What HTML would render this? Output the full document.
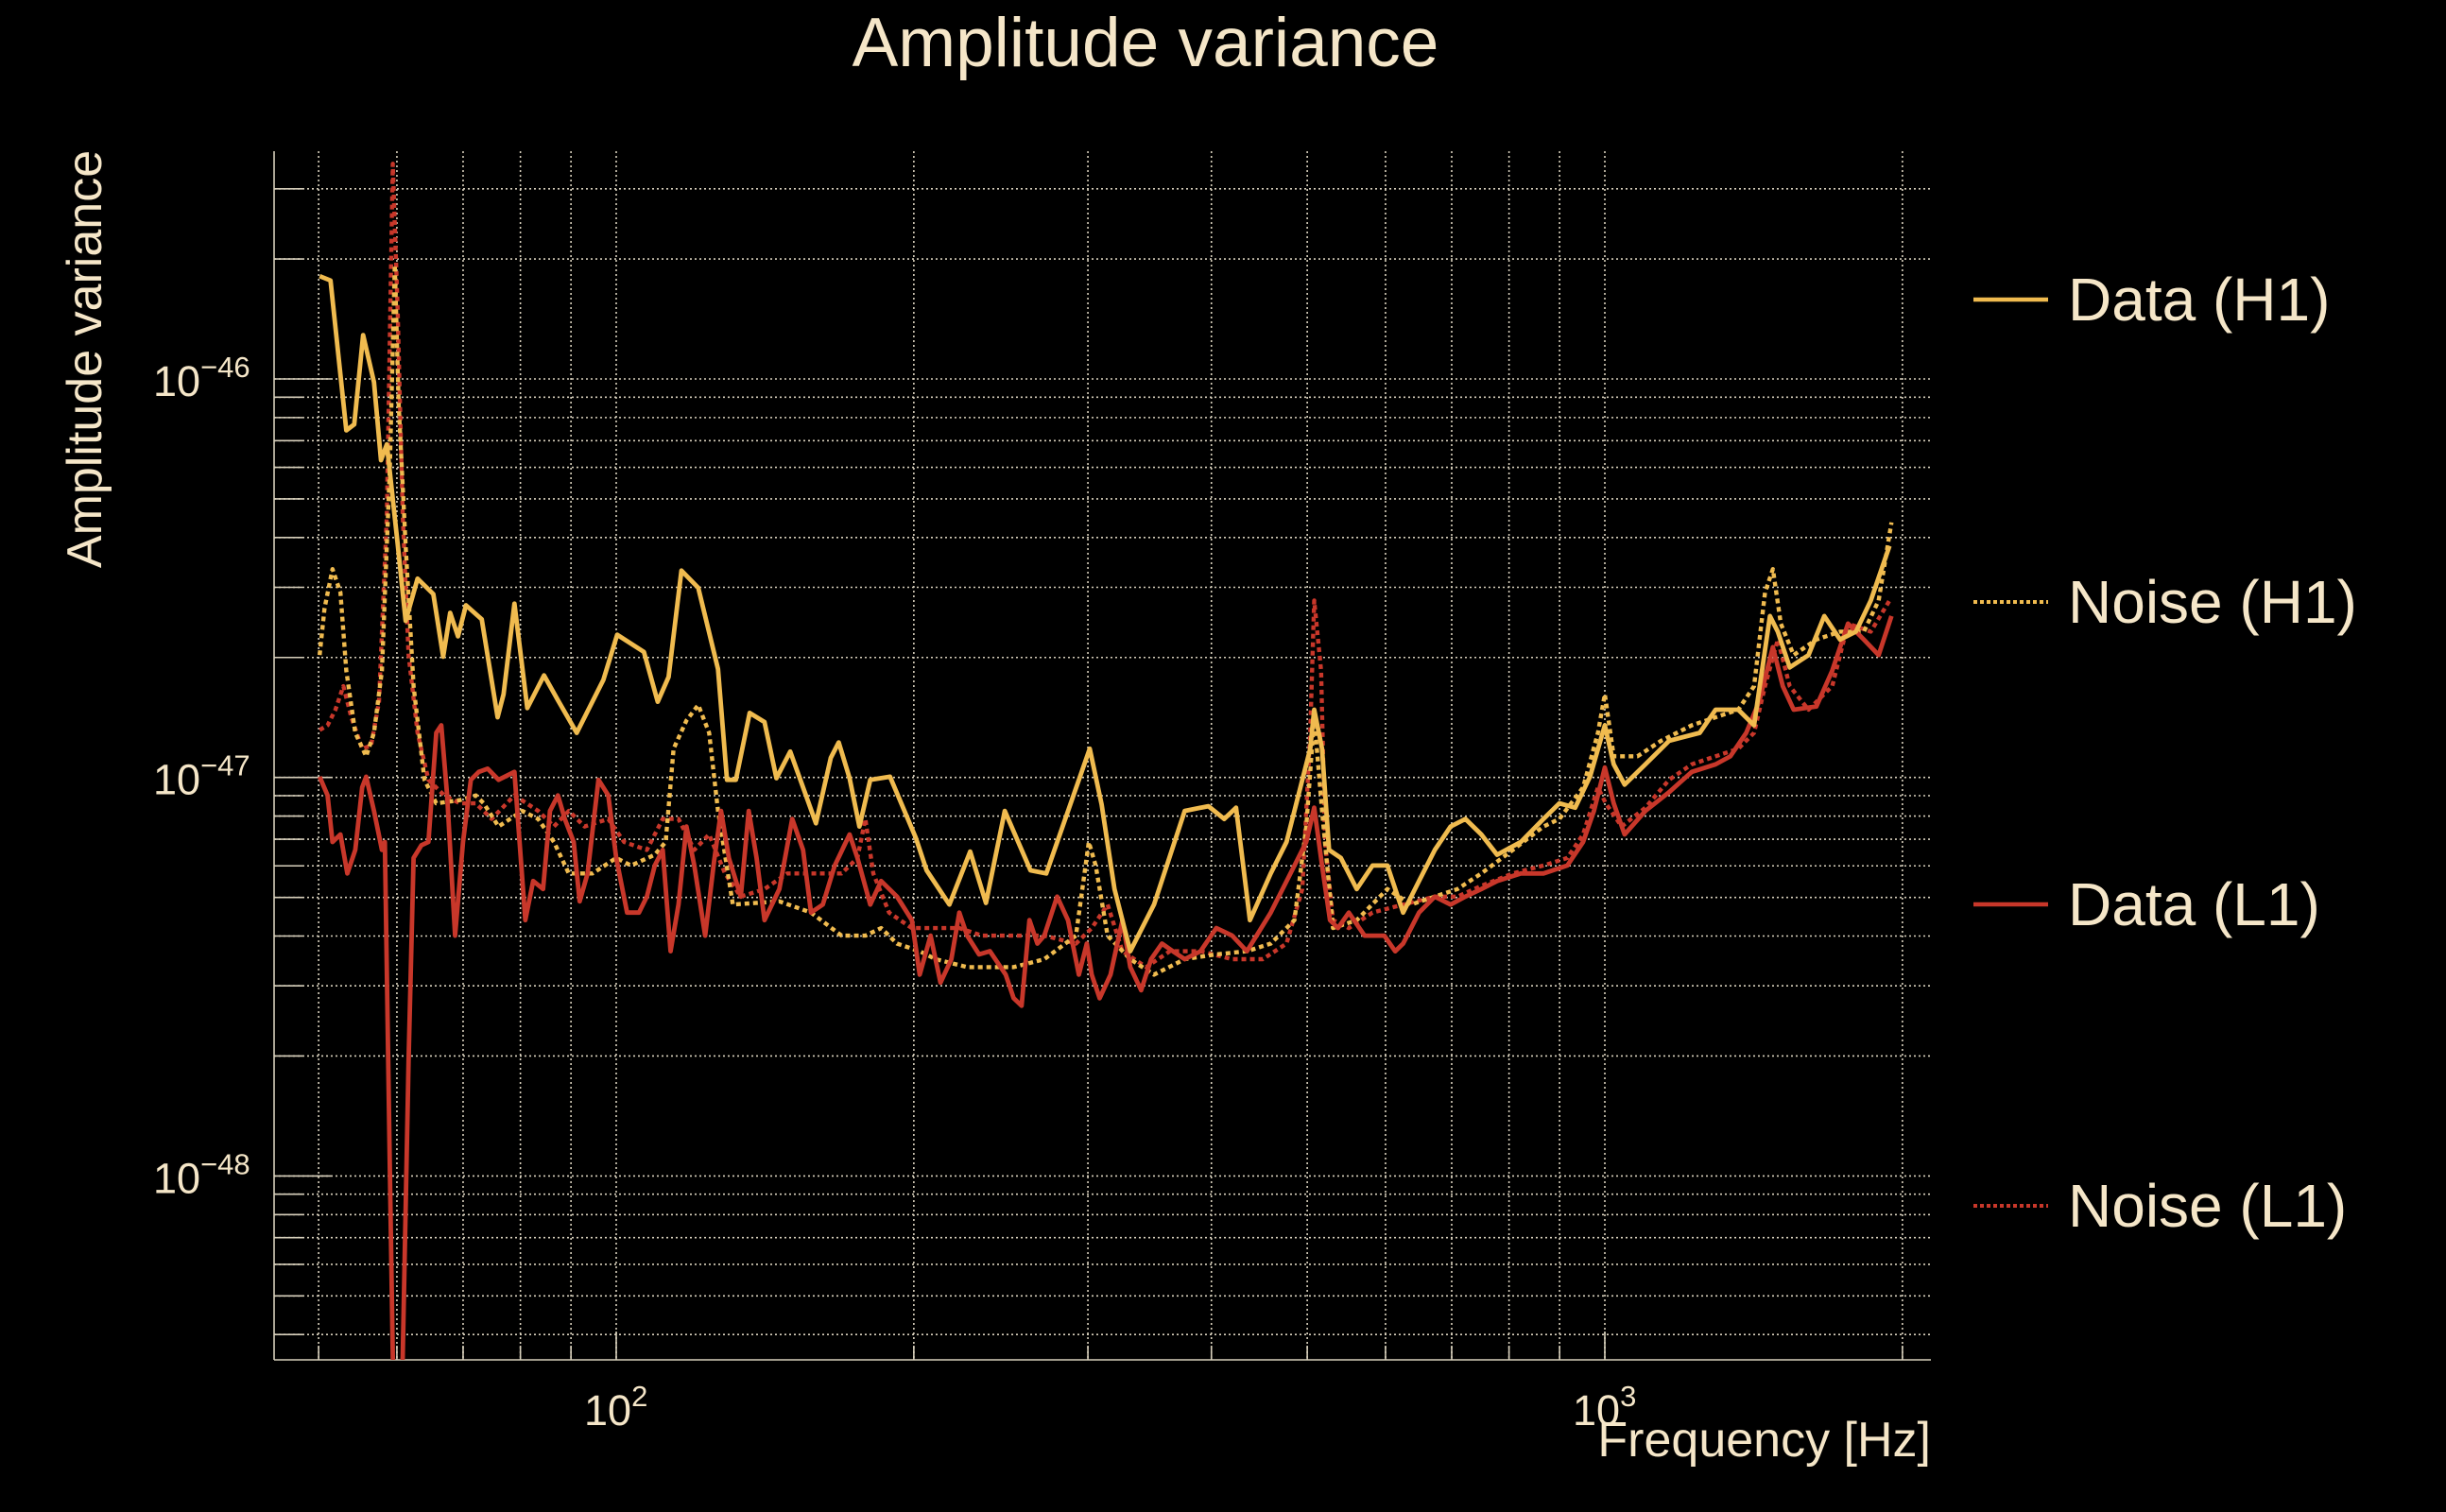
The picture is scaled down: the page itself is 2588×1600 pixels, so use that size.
<!DOCTYPE html>
<html><head><meta charset="utf-8"><style>
html,body{margin:0;padding:0;background:#000;}
svg{display:block;font-family:"Liberation Sans",sans-serif;}
</style></head><body>
<svg id="chart" width="2588" height="1600" viewBox="0 0 2588 1600">
<rect width="2588" height="1600" fill="#000"/>
<defs><clipPath id="plotclip"><rect x="290" y="160" width="1753" height="1279"/></clipPath></defs>
<g id="grid"></g>
<g id="axes"></g>
<g id="series" clip-path="url(#plotclip)"></g>
<text x="1212" y="70" text-anchor="middle" font-size="73" fill="#f5e6c8">Amplitude variance</text>
<text transform="translate(107,380) rotate(-90)" text-anchor="middle" font-size="52" fill="#f5e6c8">Amplitude variance</text>
<text x="2043" y="1541" text-anchor="end" font-size="52" fill="#f5e6c8">Frequency [Hz]</text>
<g id="legend"></g>
</svg>
<script>
const NS="http://www.w3.org/2000/svg";
// x: log10(frequency Hz), y: log10(amplitude variance)
const dataH1LogF=[1.700,1.711,1.727,1.735,1.744,1.755,1.762,1.768,1.779,1.787,1.799,1.815,1.825,1.832,1.840,1.848,1.864,1.880,1.886,1.897,1.910,1.927,1.941,1.960,1.987,2.001,2.028,2.042,2.053,2.066,2.083,2.103,2.112,2.121,2.135,2.150,2.162,2.176,2.202,2.217,2.225,2.236,2.246,2.257,2.277,2.303,2.314,2.337,2.358,2.374,2.393,2.419,2.435,2.479,2.491,2.504,2.520,2.544,2.575,2.599,2.615,2.627,2.641,2.662,2.678,2.702,2.706,2.714,2.721,2.733,2.749,2.765,2.780,2.796,2.812,2.828,2.844,2.859,2.875,2.891,2.915,2.938,2.954,2.970,2.985,3.000,3.009,3.020,3.041,3.065,3.096,3.112,3.135,3.151,3.167,3.175,3.187,3.206,3.222,3.238,3.254,3.269,3.288];
const dataH1LogV=[-45.742,-45.753,-46.129,-46.114,-45.890,-46.008,-46.204,-46.164,-46.415,-46.607,-46.501,-46.540,-46.697,-46.587,-46.646,-46.568,-46.603,-46.849,-46.791,-46.564,-46.826,-46.744,-46.806,-46.888,-46.755,-46.642,-46.685,-46.810,-46.748,-46.481,-46.524,-46.728,-47.006,-47.006,-46.838,-46.861,-47.002,-46.935,-47.115,-46.951,-46.912,-47.002,-47.123,-47.006,-46.998,-47.151,-47.233,-47.319,-47.186,-47.315,-47.084,-47.233,-47.241,-46.928,-47.068,-47.280,-47.436,-47.319,-47.084,-47.072,-47.104,-47.076,-47.358,-47.241,-47.162,-46.928,-46.830,-46.928,-47.182,-47.202,-47.280,-47.221,-47.221,-47.339,-47.260,-47.182,-47.123,-47.104,-47.143,-47.194,-47.162,-47.104,-47.065,-47.076,-46.998,-46.869,-46.967,-47.018,-46.967,-46.908,-46.888,-46.830,-46.830,-46.869,-46.595,-46.634,-46.724,-46.693,-46.595,-46.654,-46.634,-46.556,-46.419];
const noiseH1LogF=[1.700,1.705,1.713,1.721,1.727,1.736,1.747,1.755,1.763,1.771,1.776,1.780,1.787,1.795,1.806,1.818,1.842,1.858,1.866,1.881,1.905,1.921,1.937,1.952,1.976,2.000,2.015,2.039,2.050,2.058,2.071,2.083,2.094,2.103,2.118,2.165,2.197,2.228,2.252,2.268,2.284,2.307,2.323,2.355,2.402,2.433,2.465,2.478,2.485,2.497,2.520,2.544,2.575,2.607,2.638,2.662,2.686,2.698,2.706,2.714,2.725,2.749,2.780,2.804,2.828,2.851,2.875,2.907,2.938,2.954,2.978,2.993,3.000,3.009,3.033,3.057,3.088,3.112,3.135,3.151,3.162,3.170,3.178,3.191,3.214,3.238,3.262,3.277,3.290];
const noiseH1LogV=[-46.693,-46.575,-46.477,-46.536,-46.732,-46.888,-46.947,-46.888,-46.732,-46.223,-45.714,-46.067,-46.419,-46.771,-47.006,-47.065,-47.057,-47.045,-47.065,-47.123,-47.084,-47.104,-47.162,-47.241,-47.241,-47.202,-47.221,-47.194,-47.162,-46.928,-46.857,-46.818,-46.888,-47.084,-47.319,-47.311,-47.339,-47.397,-47.397,-47.378,-47.417,-47.436,-47.456,-47.476,-47.476,-47.456,-47.397,-47.162,-47.221,-47.397,-47.456,-47.495,-47.456,-47.444,-47.436,-47.417,-47.358,-47.123,-46.849,-47.084,-47.378,-47.358,-47.280,-47.319,-47.299,-47.280,-47.241,-47.182,-47.123,-47.104,-47.025,-46.888,-46.791,-46.947,-46.947,-46.908,-46.869,-46.849,-46.830,-46.771,-46.536,-46.477,-46.614,-46.693,-46.654,-46.634,-46.634,-46.556,-46.360];
const dataL1LogF=[1.700,1.708,1.713,1.721,1.728,1.736,1.743,1.747,1.755,1.763,1.766,1.771,1.774,1.779,1.784,1.790,1.795,1.803,1.810,1.818,1.823,1.829,1.837,1.845,1.853,1.861,1.870,1.881,1.897,1.908,1.916,1.926,1.933,1.941,1.948,1.957,1.963,1.971,1.982,1.992,2.000,2.011,2.023,2.031,2.039,2.047,2.055,2.063,2.071,2.079,2.090,2.099,2.106,2.114,2.126,2.134,2.142,2.150,2.165,2.178,2.189,2.197,2.209,2.221,2.236,2.244,2.257,2.268,2.284,2.299,2.307,2.318,2.328,2.339,2.347,2.355,2.367,2.378,2.394,2.402,2.410,2.418,2.426,2.433,2.446,2.457,2.468,2.476,2.481,2.489,2.500,2.512,2.520,2.531,2.541,2.552,2.563,2.575,2.591,2.607,2.623,2.638,2.662,2.686,2.698,2.706,2.714,2.722,2.730,2.741,2.757,2.777,2.788,2.796,2.812,2.828,2.844,2.859,2.875,2.891,2.915,2.938,2.962,2.978,2.989,3.000,3.009,3.020,3.041,3.065,3.088,3.112,3.127,3.143,3.156,3.170,3.180,3.191,3.214,3.230,3.246,3.262,3.277,3.290];
const dataL1LogV=[-46.998,-47.045,-47.162,-47.143,-47.241,-47.182,-47.025,-46.998,-47.084,-47.182,-47.162,-47.984,-48.454,-48.700,-48.454,-47.710,-47.202,-47.170,-47.162,-46.888,-46.869,-47.045,-47.397,-47.162,-47.006,-46.986,-46.978,-47.006,-46.986,-47.358,-47.260,-47.280,-47.084,-47.045,-47.104,-47.162,-47.311,-47.241,-47.006,-47.045,-47.202,-47.339,-47.339,-47.299,-47.221,-47.182,-47.436,-47.319,-47.123,-47.221,-47.397,-47.209,-47.084,-47.202,-47.299,-47.084,-47.202,-47.358,-47.280,-47.104,-47.182,-47.339,-47.319,-47.221,-47.143,-47.202,-47.319,-47.260,-47.299,-47.358,-47.495,-47.397,-47.515,-47.456,-47.339,-47.397,-47.444,-47.436,-47.495,-47.554,-47.573,-47.358,-47.417,-47.397,-47.299,-47.358,-47.495,-47.417,-47.495,-47.554,-47.495,-47.358,-47.476,-47.534,-47.456,-47.417,-47.436,-47.456,-47.436,-47.378,-47.397,-47.436,-47.339,-47.221,-47.162,-47.076,-47.221,-47.358,-47.378,-47.339,-47.397,-47.397,-47.436,-47.417,-47.339,-47.299,-47.319,-47.299,-47.280,-47.260,-47.241,-47.241,-47.221,-47.162,-47.084,-46.975,-47.065,-47.143,-47.084,-47.037,-46.986,-46.967,-46.947,-46.888,-46.810,-46.673,-46.771,-46.830,-46.822,-46.732,-46.614,-46.654,-46.693,-46.595];
const noiseL1LogF=[1.700,1.708,1.716,1.724,1.732,1.743,1.752,1.760,1.768,1.774,1.779,1.784,1.790,1.799,1.810,1.826,1.842,1.858,1.874,1.897,1.921,1.937,1.952,1.968,1.992,2.008,2.031,2.047,2.063,2.079,2.094,2.110,2.126,2.150,2.173,2.197,2.228,2.244,2.252,2.260,2.276,2.299,2.323,2.347,2.370,2.402,2.433,2.465,2.481,2.497,2.512,2.536,2.560,2.591,2.623,2.654,2.678,2.694,2.702,2.706,2.713,2.717,2.725,2.741,2.765,2.796,2.828,2.851,2.875,2.907,2.938,2.962,2.978,2.993,3.001,3.017,3.041,3.065,3.088,3.112,3.135,3.151,3.162,3.175,3.187,3.206,3.230,3.246,3.269,3.288];
const noiseL1LogV=[-46.881,-46.869,-46.830,-46.771,-46.849,-46.928,-46.920,-46.810,-46.341,-45.460,-45.832,-46.341,-46.693,-46.888,-47.006,-47.045,-47.065,-47.065,-47.104,-47.045,-47.084,-47.123,-47.084,-47.123,-47.104,-47.162,-47.182,-47.104,-47.104,-47.182,-47.143,-47.241,-47.299,-47.280,-47.241,-47.241,-47.241,-47.202,-47.104,-47.241,-47.339,-47.378,-47.378,-47.378,-47.397,-47.397,-47.397,-47.417,-47.378,-47.319,-47.436,-47.476,-47.436,-47.436,-47.456,-47.456,-47.417,-47.280,-46.888,-46.556,-46.732,-47.162,-47.358,-47.378,-47.339,-47.319,-47.299,-47.299,-47.272,-47.241,-47.221,-47.202,-47.143,-47.025,-47.065,-47.123,-47.076,-47.006,-46.967,-46.947,-46.928,-46.888,-46.771,-46.654,-46.771,-46.830,-46.771,-46.614,-46.634,-46.556];
const xTickDecades=[2,3];
const xTickLabels=["10","10"];
const xTickExps=["2","3"];
const yTickDecades=[-46,-47,-48];
const yTickExps=["−46","−47","−48"];
const seriesNames=["Data (H1)","Noise (H1)","Data (L1)","Noise (L1)"];
const seriesColors=["#f0bb4f","#f0bb4f","#c8372a","#c8372a"];
const seriesDashed=[false,true,false,true];

const PL=290,PR=2043,PT=160,PB=1439;
function xs(lf){return 652+(lf-2)*1046;}
function ys(lv){return 401+(-46-lv)*421.7;}
const grid=document.getElementById('grid'),axes=document.getElementById('axes');
function mk(tag,attrs,parent){const e=document.createElementNS(NS,tag);for(const k in attrs)e.setAttribute(k,attrs[k]);parent.appendChild(e);return e;}
for(let d=1;d<=3;d++){for(let m=1;m<=9;m++){const lf=d+Math.log10(m);const x=xs(lf);if(x<PL||x>PR)continue;
 const l=mk('line',{x1:x,x2:x,y1:PT,y2:PB,stroke:'#d8d0bc','stroke-width':1.6,'stroke-dasharray':'2 3'},grid);
 
 
 const t=mk('line',{x1:x,x2:x,y1:PB,y2:PB-(m===1?30:15),stroke:'#d8d0bc','stroke-width':1.6},axes);
 
 }}
for(let d=-49;d<=-46;d++){for(let m=1;m<=9;m++){const lv=d+Math.log10(m);const y=ys(lv);if(y<PT||y>PB)continue;
 const l=mk('line',{x1:PL,x2:PR,y1:y,y2:y,stroke:'#d8d0bc','stroke-width':1.6,'stroke-dasharray':'2 3'},grid);
 
 
 const t=mk('line',{x1:PL,x2:PL+(m===1?60:30),y1:y,y2:y,stroke:'#d8d0bc','stroke-width':1.6},axes);
 
 }}
const sp1=mk('line',{x1:PL,x2:PL,y1:PT,y2:PB,stroke:'#d8d0bc','stroke-width':1.6},axes);


const sp2=mk('line',{x1:PL,x2:PR,y1:PB,y2:PB,stroke:'#d8d0bc','stroke-width':1.6},axes);


xTickDecades.forEach((d,i)=>{const t=mk('text',{x:xs(d)-34,y:1508,'font-size':45,fill:'#f5e6c8'},axes);
 
 
 t.textContent=xTickLabels[i];
 const s=mk('tspan',{dy:-20,'font-size':31},t);s.textContent=xTickExps[i];});
yTickDecades.forEach((d,i)=>{const y=ys(d);const t=mk('text',{x:162,y:y+18,'font-size':45,fill:'#f5e6c8'},axes);
 
 
 t.textContent='10';
 const s=mk('tspan',{dy:-20,'font-size':31},t);s.textContent=yTickExps[i];});
const sg=document.getElementById('series');
const fx=[dataH1LogF,noiseH1LogF,dataL1LogF,noiseL1LogF],fy=[dataH1LogV,noiseH1LogV,dataL1LogV,noiseL1LogV];
const order=[3,1,2,0];
order.forEach(i=>{const n=Math.min(fx[i].length,fy[i].length);let d='';
 for(let k=0;k<n;k++){d+=(k?'L':'M')+xs(fx[i][k]).toFixed(1)+','+ys(fy[i][k]).toFixed(1);}
 const p=mk('path',{d:d,fill:'none',stroke:seriesColors[i],'stroke-width':seriesDashed[i]?4.4:4.8,'stroke-linejoin':'round'},sg);
 if(seriesDashed[i])p.setAttribute('stroke-dasharray','5 4');
 
 });
const lg=document.getElementById('legend');const ly=[317,637,957,1276];
seriesNames.forEach((nm,i)=>{const g=mk('g',{},lg);
 
 
 const l=mk('line',{x1:2088,x2:2167,y1:ly[i],y2:ly[i],stroke:seriesColors[i],'stroke-width':seriesDashed[i]?4:4.6},g);
 if(seriesDashed[i])l.setAttribute('stroke-dasharray','4 3');
 const t=mk('text',{x:2188,y:ly[i]+22,'font-size':64,fill:'#f5e6c8'},g);t.textContent=nm;});
</script>
</body></html>
